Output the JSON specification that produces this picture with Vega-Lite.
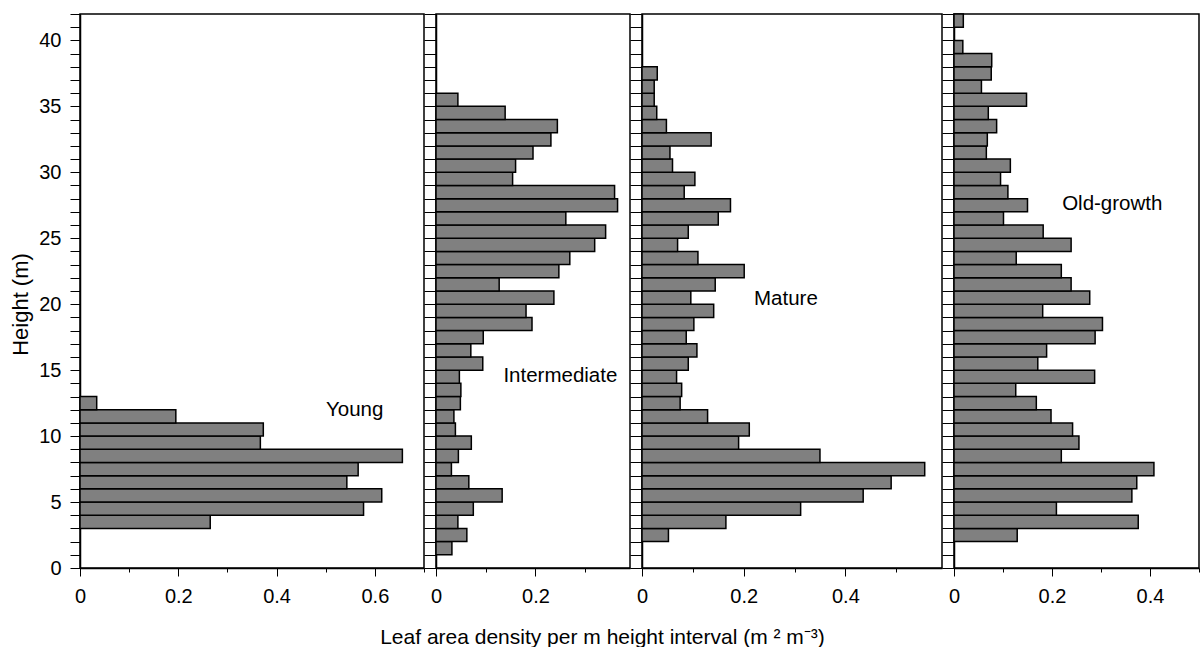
{
  "$schema": "https://vega.github.io/schema/vega-lite/v6.json",
  "padding": {"left": 8, "top": 3, "right": 0, "bottom": 0},
  "background": "white",
  "datasets": {
    "lad": [
      {"stand": "Young", "from": 3, "to": 4, "lad": 0.265},
      {"stand": "Young", "from": 4, "to": 5, "lad": 0.577},
      {"stand": "Young", "from": 5, "to": 6, "lad": 0.614},
      {"stand": "Young", "from": 6, "to": 7, "lad": 0.543},
      {"stand": "Young", "from": 7, "to": 8, "lad": 0.566},
      {"stand": "Young", "from": 8, "to": 9, "lad": 0.656},
      {"stand": "Young", "from": 9, "to": 10, "lad": 0.367},
      {"stand": "Young", "from": 10, "to": 11, "lad": 0.373},
      {"stand": "Young", "from": 11, "to": 12, "lad": 0.195},
      {"stand": "Young", "from": 12, "to": 13, "lad": 0.034},
      {"stand": "Intermediate", "from": 1, "to": 2, "lad": 0.032},
      {"stand": "Intermediate", "from": 2, "to": 3, "lad": 0.062},
      {"stand": "Intermediate", "from": 3, "to": 4, "lad": 0.044},
      {"stand": "Intermediate", "from": 4, "to": 5, "lad": 0.075},
      {"stand": "Intermediate", "from": 5, "to": 6, "lad": 0.133},
      {"stand": "Intermediate", "from": 6, "to": 7, "lad": 0.066},
      {"stand": "Intermediate", "from": 7, "to": 8, "lad": 0.031},
      {"stand": "Intermediate", "from": 8, "to": 9, "lad": 0.045},
      {"stand": "Intermediate", "from": 9, "to": 10, "lad": 0.071},
      {"stand": "Intermediate", "from": 10, "to": 11, "lad": 0.039},
      {"stand": "Intermediate", "from": 11, "to": 12, "lad": 0.036},
      {"stand": "Intermediate", "from": 12, "to": 13, "lad": 0.049},
      {"stand": "Intermediate", "from": 13, "to": 14, "lad": 0.050},
      {"stand": "Intermediate", "from": 14, "to": 15, "lad": 0.047},
      {"stand": "Intermediate", "from": 15, "to": 16, "lad": 0.094},
      {"stand": "Intermediate", "from": 16, "to": 17, "lad": 0.070},
      {"stand": "Intermediate", "from": 17, "to": 18, "lad": 0.095},
      {"stand": "Intermediate", "from": 18, "to": 19, "lad": 0.193},
      {"stand": "Intermediate", "from": 19, "to": 20, "lad": 0.181},
      {"stand": "Intermediate", "from": 20, "to": 21, "lad": 0.237},
      {"stand": "Intermediate", "from": 21, "to": 22, "lad": 0.127},
      {"stand": "Intermediate", "from": 22, "to": 23, "lad": 0.247},
      {"stand": "Intermediate", "from": 23, "to": 24, "lad": 0.269},
      {"stand": "Intermediate", "from": 24, "to": 25, "lad": 0.319},
      {"stand": "Intermediate", "from": 25, "to": 26, "lad": 0.341},
      {"stand": "Intermediate", "from": 26, "to": 27, "lad": 0.261},
      {"stand": "Intermediate", "from": 27, "to": 28, "lad": 0.365},
      {"stand": "Intermediate", "from": 28, "to": 29, "lad": 0.359},
      {"stand": "Intermediate", "from": 29, "to": 30, "lad": 0.154},
      {"stand": "Intermediate", "from": 30, "to": 31, "lad": 0.160},
      {"stand": "Intermediate", "from": 31, "to": 32, "lad": 0.195},
      {"stand": "Intermediate", "from": 32, "to": 33, "lad": 0.231},
      {"stand": "Intermediate", "from": 33, "to": 34, "lad": 0.244},
      {"stand": "Intermediate", "from": 34, "to": 35, "lad": 0.139},
      {"stand": "Intermediate", "from": 35, "to": 36, "lad": 0.044},
      {"stand": "Mature", "from": 2, "to": 3, "lad": 0.052},
      {"stand": "Mature", "from": 3, "to": 4, "lad": 0.165},
      {"stand": "Mature", "from": 4, "to": 5, "lad": 0.312},
      {"stand": "Mature", "from": 5, "to": 6, "lad": 0.435},
      {"stand": "Mature", "from": 6, "to": 7, "lad": 0.490},
      {"stand": "Mature", "from": 7, "to": 8, "lad": 0.556},
      {"stand": "Mature", "from": 8, "to": 9, "lad": 0.350},
      {"stand": "Mature", "from": 9, "to": 10, "lad": 0.190},
      {"stand": "Mature", "from": 10, "to": 11, "lad": 0.211},
      {"stand": "Mature", "from": 11, "to": 12, "lad": 0.129},
      {"stand": "Mature", "from": 12, "to": 13, "lad": 0.075},
      {"stand": "Mature", "from": 13, "to": 14, "lad": 0.078},
      {"stand": "Mature", "from": 14, "to": 15, "lad": 0.068},
      {"stand": "Mature", "from": 15, "to": 16, "lad": 0.091},
      {"stand": "Mature", "from": 16, "to": 17, "lad": 0.108},
      {"stand": "Mature", "from": 17, "to": 18, "lad": 0.087},
      {"stand": "Mature", "from": 18, "to": 19, "lad": 0.102},
      {"stand": "Mature", "from": 19, "to": 20, "lad": 0.141},
      {"stand": "Mature", "from": 20, "to": 21, "lad": 0.096},
      {"stand": "Mature", "from": 21, "to": 22, "lad": 0.144},
      {"stand": "Mature", "from": 22, "to": 23, "lad": 0.201},
      {"stand": "Mature", "from": 23, "to": 24, "lad": 0.110},
      {"stand": "Mature", "from": 24, "to": 25, "lad": 0.070},
      {"stand": "Mature", "from": 25, "to": 26, "lad": 0.091},
      {"stand": "Mature", "from": 26, "to": 27, "lad": 0.150},
      {"stand": "Mature", "from": 27, "to": 28, "lad": 0.174},
      {"stand": "Mature", "from": 28, "to": 29, "lad": 0.083},
      {"stand": "Mature", "from": 29, "to": 30, "lad": 0.104},
      {"stand": "Mature", "from": 30, "to": 31, "lad": 0.060},
      {"stand": "Mature", "from": 31, "to": 32, "lad": 0.055},
      {"stand": "Mature", "from": 32, "to": 33, "lad": 0.136},
      {"stand": "Mature", "from": 33, "to": 34, "lad": 0.048},
      {"stand": "Mature", "from": 34, "to": 35, "lad": 0.029},
      {"stand": "Mature", "from": 35, "to": 36, "lad": 0.024},
      {"stand": "Mature", "from": 36, "to": 37, "lad": 0.024},
      {"stand": "Mature", "from": 37, "to": 38, "lad": 0.030},
      {"stand": "Old-growth", "from": 2, "to": 3, "lad": 0.129},
      {"stand": "Old-growth", "from": 3, "to": 4, "lad": 0.376},
      {"stand": "Old-growth", "from": 4, "to": 5, "lad": 0.209},
      {"stand": "Old-growth", "from": 5, "to": 6, "lad": 0.363},
      {"stand": "Old-growth", "from": 6, "to": 7, "lad": 0.373},
      {"stand": "Old-growth", "from": 7, "to": 8, "lad": 0.408},
      {"stand": "Old-growth", "from": 8, "to": 9, "lad": 0.219},
      {"stand": "Old-growth", "from": 9, "to": 10, "lad": 0.255},
      {"stand": "Old-growth", "from": 10, "to": 11, "lad": 0.242},
      {"stand": "Old-growth", "from": 11, "to": 12, "lad": 0.198},
      {"stand": "Old-growth", "from": 12, "to": 13, "lad": 0.168},
      {"stand": "Old-growth", "from": 13, "to": 14, "lad": 0.126},
      {"stand": "Old-growth", "from": 14, "to": 15, "lad": 0.287},
      {"stand": "Old-growth", "from": 15, "to": 16, "lad": 0.171},
      {"stand": "Old-growth", "from": 16, "to": 17, "lad": 0.189},
      {"stand": "Old-growth", "from": 17, "to": 18, "lad": 0.288},
      {"stand": "Old-growth", "from": 18, "to": 19, "lad": 0.303},
      {"stand": "Old-growth", "from": 19, "to": 20, "lad": 0.181},
      {"stand": "Old-growth", "from": 20, "to": 21, "lad": 0.277},
      {"stand": "Old-growth", "from": 21, "to": 22, "lad": 0.239},
      {"stand": "Old-growth", "from": 22, "to": 23, "lad": 0.219},
      {"stand": "Old-growth", "from": 23, "to": 24, "lad": 0.127},
      {"stand": "Old-growth", "from": 24, "to": 25, "lad": 0.239},
      {"stand": "Old-growth", "from": 25, "to": 26, "lad": 0.182},
      {"stand": "Old-growth", "from": 26, "to": 27, "lad": 0.101},
      {"stand": "Old-growth", "from": 27, "to": 28, "lad": 0.150},
      {"stand": "Old-growth", "from": 28, "to": 29, "lad": 0.110},
      {"stand": "Old-growth", "from": 29, "to": 30, "lad": 0.095},
      {"stand": "Old-growth", "from": 30, "to": 31, "lad": 0.115},
      {"stand": "Old-growth", "from": 31, "to": 32, "lad": 0.066},
      {"stand": "Old-growth", "from": 32, "to": 33, "lad": 0.068},
      {"stand": "Old-growth", "from": 33, "to": 34, "lad": 0.087},
      {"stand": "Old-growth", "from": 34, "to": 35, "lad": 0.070},
      {"stand": "Old-growth", "from": 35, "to": 36, "lad": 0.148},
      {"stand": "Old-growth", "from": 36, "to": 37, "lad": 0.056},
      {"stand": "Old-growth", "from": 37, "to": 38, "lad": 0.076},
      {"stand": "Old-growth", "from": 38, "to": 39, "lad": 0.077},
      {"stand": "Old-growth", "from": 39, "to": 40, "lad": 0.018},
      {"stand": "Old-growth", "from": 41, "to": 42, "lad": 0.019}
    ]
  },
  "spacing": 12,
  "bounds": "flush",
  "hconcat": [
    {
      "width": 344,
      "height": 554,
      "layer": [
        {
          "data": {"name": "lad"},
          "transform": [{"filter": "datum.stand === 'Young'"}],
          "mark": {"type": "rect", "fill": "#808080", "stroke": "black", "strokeWidth": 1.5},
          "encoding": {
            "x": {"field": "lad", "type": "quantitative", "scale": {"domain": [0, 0.7], "nice": false, "zero": true},
              "axis": {"values": [0, 0.1, 0.2, 0.3, 0.4, 0.5, 0.6, 0.7], "tickCount": 50, "format": ".1~f", "labelExpr": "round(datum.value*10) % 2 === 0 ? datum.label : ''",
                "tickSize": {"condition": {"test": "round(datum.value*10) % 2 === 0", "value": 8}, "value": 4},
                "labelPadding": 10,
                "title": "Leaf area density per m height interval (m ² m⁻³)", "titleFontSize": 21, "titleX": 522, "titleY": 75, "titleAlign": "center", "titleBaseline": "alphabetic"}},
            "x2": {"datum": 0},
            "y": {"field": "from", "type": "quantitative", "scale": {"domain": [0, 42], "nice": false},
              "axis": {"values": [0,1,2,3,4,5,6,7,8,9,10,11,12,13,14,15,16,17,18,19,20,21,22,23,24,25,26,27,28,29,30,31,32,33,34,35,36,37,38,39,40,41,42],
                "tickCount": 100, "format": "d", "labelExpr": "datum.value % 5 === 0 ? datum.label : ''", "tickSize": 10, "labelPadding": 9,
                "title": "Height (m)", "titleFontSize": 22, "titleAngle": 270, "titleX": -53, "titleY": 290, "titleAlign": "center", "titleBaseline": "alphabetic"}},
            "y2": {"field": "to"}
          }
        },
        {
          "data": {"values": [{}]},
          "mark": {"type": "text", "font": "Liberation Sans", "fontSize": 20.5, "align": "center", "baseline": "alphabetic", "color": "black"},
          "encoding": {"x": {"datum": 0.559}, "y": {"datum": 11.56}, "text": {"value": "Young"}}
        }
      ]
    },
    {
      "width": 194,
      "height": 554,
      "layer": [
        {
          "data": {"name": "lad"},
          "transform": [{"filter": "datum.stand === 'Intermediate'"}],
          "mark": {"type": "rect", "fill": "#808080", "stroke": "black", "strokeWidth": 1.5},
          "encoding": {
            "x": {"field": "lad", "type": "quantitative", "scale": {"domain": [0, 0.39], "nice": false, "zero": true},
              "axis": {"values": [0, 0.1, 0.2, 0.3], "tickCount": 50, "format": ".1~f", "labelExpr": "round(datum.value*10) % 2 === 0 ? datum.label : ''",
                "tickSize": {"condition": {"test": "round(datum.value*10) % 2 === 0", "value": 8}, "value": 4},
                "labelPadding": 10, "title": null}},
            "x2": {"datum": 0},
            "y": {"field": "from", "type": "quantitative", "scale": {"domain": [0, 42], "nice": false},
              "axis": {"values": [0,1,2,3,4,5,6,7,8,9,10,11,12,13,14,15,16,17,18,19,20,21,22,23,24,25,26,27,28,29,30,31,32,33,34,35,36,37,38,39,40,41,42],
                "tickCount": 100, "labels": false, "tickSize": 12, "title": null}},
            "y2": {"field": "to"}
          }
        },
        {
          "data": {"values": [{}]},
          "mark": {"type": "text", "font": "Liberation Sans", "fontSize": 20.5, "align": "center", "baseline": "alphabetic", "color": "black"},
          "encoding": {"x": {"datum": 0.25}, "y": {"datum": 14.08}, "text": {"value": "Intermediate"}}
        }
      ]
    },
    {
      "width": 300,
      "height": 554,
      "layer": [
        {
          "data": {"name": "lad"},
          "transform": [{"filter": "datum.stand === 'Mature'"}],
          "mark": {"type": "rect", "fill": "#808080", "stroke": "black", "strokeWidth": 1.5},
          "encoding": {
            "x": {"field": "lad", "type": "quantitative", "scale": {"domain": [0, 0.59], "nice": false, "zero": true},
              "axis": {"values": [0, 0.1, 0.2, 0.3, 0.4, 0.5], "tickCount": 50, "format": ".1~f", "labelExpr": "round(datum.value*10) % 2 === 0 ? datum.label : ''",
                "tickSize": {"condition": {"test": "round(datum.value*10) % 2 === 0", "value": 8}, "value": 4},
                "labelPadding": 10, "title": null}},
            "x2": {"datum": 0},
            "y": {"field": "from", "type": "quantitative", "scale": {"domain": [0, 42], "nice": false},
              "axis": {"values": [0,1,2,3,4,5,6,7,8,9,10,11,12,13,14,15,16,17,18,19,20,21,22,23,24,25,26,27,28,29,30,31,32,33,34,35,36,37,38,39,40,41,42],
                "tickCount": 100, "labels": false, "tickSize": 12, "title": null}},
            "y2": {"field": "to"}
          }
        },
        {
          "data": {"values": [{}]},
          "mark": {"type": "text", "font": "Liberation Sans", "fontSize": 20.5, "align": "center", "baseline": "alphabetic", "color": "black"},
          "encoding": {"x": {"datum": 0.283}, "y": {"datum": 19.94}, "text": {"value": "Mature"}}
        }
      ]
    },
    {
      "width": 245,
      "height": 554,
      "layer": [
        {
          "data": {"name": "lad"},
          "transform": [{"filter": "datum.stand === 'Old-growth'"}],
          "mark": {"type": "rect", "fill": "#808080", "stroke": "black", "strokeWidth": 1.5},
          "encoding": {
            "x": {"field": "lad", "type": "quantitative", "scale": {"domain": [0, 0.5], "nice": false, "zero": true},
              "axis": {"values": [0, 0.1, 0.2, 0.3, 0.4, 0.5], "tickCount": 50, "format": ".1~f", "labelExpr": "round(datum.value*10) % 2 === 0 && datum.value < 0.45 ? datum.label : ''",
                "tickSize": {"condition": {"test": "round(datum.value*10) % 2 === 0", "value": 8}, "value": 4},
                "labelPadding": 10, "title": null}},
            "x2": {"datum": 0},
            "y": {"field": "from", "type": "quantitative", "scale": {"domain": [0, 42], "nice": false},
              "axis": {"values": [0,1,2,3,4,5,6,7,8,9,10,11,12,13,14,15,16,17,18,19,20,21,22,23,24,25,26,27,28,29,30,31,32,33,34,35,36,37,38,39,40,41,42],
                "tickCount": 100, "labels": false, "tickSize": 12, "title": null}},
            "y2": {"field": "to"}
          }
        },
        {
          "data": {"values": [{}]},
          "mark": {"type": "text", "font": "Liberation Sans", "fontSize": 20.5, "align": "center", "baseline": "alphabetic", "color": "black"},
          "encoding": {"x": {"datum": 0.323}, "y": {"datum": 27.13}, "text": {"value": "Old-growth"}}
        }
      ]
    }
  ],
  "config": {
    "view": {"stroke": "black", "strokeWidth": 1.5},
    "font": "Liberation Sans",
    "axis": {
      "grid": false,
      "domainColor": "black",
      "domainWidth": 1.5,
      "tickColor": "black",
      "tickWidth": 1,
      "labelColor": "black",
      "labelFont": "Liberation Sans",
      "labelFontSize": 20,
      "titleColor": "black",
      "titleFont": "Liberation Sans",
      "titleFontSize": 20,
      "titleFontWeight": "normal",
      "labelFlush": false,
      "labelOverlap": false
    }
  }
}
